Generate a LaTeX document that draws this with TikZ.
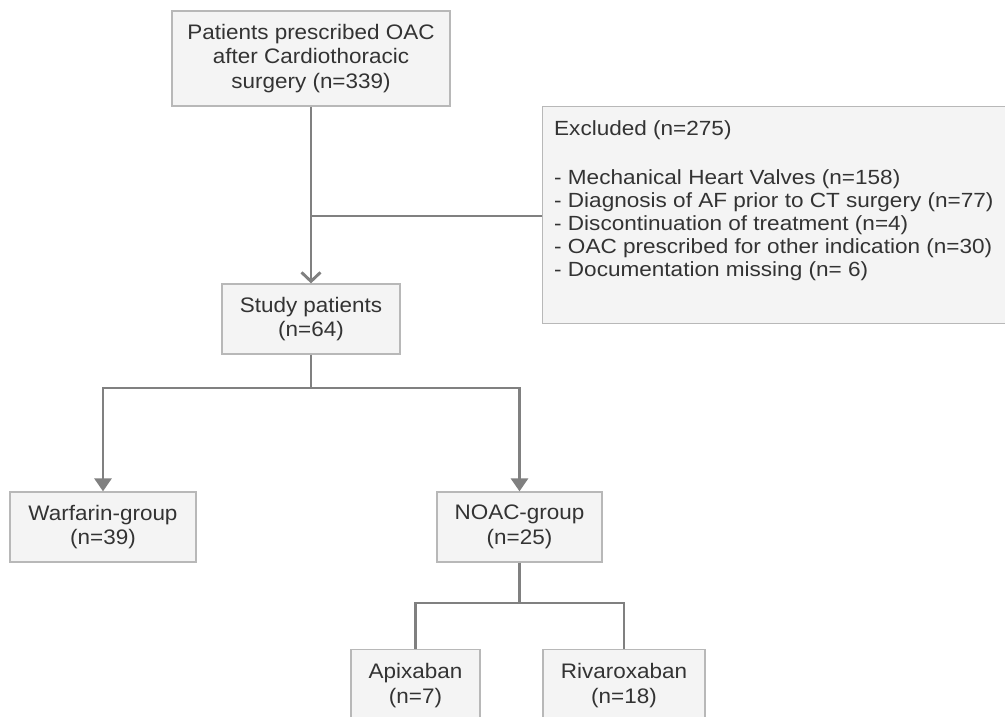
\documentclass[tikz,border=0pt]{standalone}
\usepackage{fontspec}
\setmainfont[FakeStretch=1.07]{Liberation Sans}
\newfontfamily\listfont[FakeStretch=1.1]{Liberation Sans}
\usetikzlibrary{arrows.meta}
\definecolor{boxfill}{HTML}{F4F4F4}
\definecolor{boxline}{HTML}{B8B8B8}
\definecolor{txtcol}{HTML}{333333}
\definecolor{conncol}{HTML}{808080}
\begin{document}
\begin{tikzpicture}[x=1pt,y=-1pt,
  box/.style={draw=boxline, fill=boxfill, line width=1.3pt, text=txtcol, align=center, inner sep=0pt, font=\fontsize{21}{24.5}\selectfont},
  conn/.style={draw=conncol, line width=2.9pt},
  openarrow/.style={conn, -{Straight Barb[length=9pt,width=19pt]}},
  filledarrow/.style={conn, -{Triangle[length=13pt,width=17pt]}},
  listtext/.style={inner sep=0pt, align=left, text=txtcol, font=\listfont\fontsize{20.5}{23}\selectfont}
]
\useasboundingbox (0,0) rectangle (1005,716);
\clip (0,0) rectangle (1005,716);
\fill[white] (0,0) rectangle (1005,716);

\node[box, minimum width=278pt, minimum height=95pt] (top) at (311,58.5) {Patients prescribed OAC\\after Cardiothoracic\\surgery (n=339)};
\node[box, minimum width=178pt, minimum height=70pt] (study) at (311,319) {Study patients\\(n=64)};
\node[box, minimum width=186pt, minimum height=70pt] (warf) at (103,527) {Warfarin-group\\(n=39)};
\node[box, minimum width=165pt, minimum height=70pt] (noac) at (519.5,527) {NOAC-group\\(n=25)};
\node[box, minimum width=129pt, minimum height=72pt, anchor=north] (apix) at (415.5,649) {Apixaban\\(n=7)};
\node[box, minimum width=162pt, minimum height=72pt, anchor=north] (riva) at (624,649) {Rivaroxaban\\(n=18)};
\node[box, minimum width=466pt, minimum height=217pt, anchor=north west] (exc) at (542,106) {};
\node[listtext, anchor=north west] (exctext) at (554,120) {Excluded (n=275)\\[26pt]- Mechanical Heart Valves (n=158)\\- Diagnosis of AF prior to CT surgery (n=77)\\- Discontinuation of treatment (n=4)\\- OAC prescribed for other indication (n=30)\\- Documentation missing (n= 6)};

\coordinate (j1) at (311,216);
\coordinate (j2) at (311,388);
\coordinate (j3) at (519.5,603);

\draw[openarrow] (top.south) -- (study.north);
\draw[conn] (j1) -- (j1 -| exc.west);
\draw[conn] (study.south) -- (j2);
\draw[filledarrow] (j2) -| (warf.north);
\draw[filledarrow] (j2) -| (noac.north);
\draw[conn] (noac.south) -- (j3);
\draw[conn] (j3) -| (apix.north);
\draw[conn] (j3) -| (riva.north);
\end{tikzpicture}
\end{document}
